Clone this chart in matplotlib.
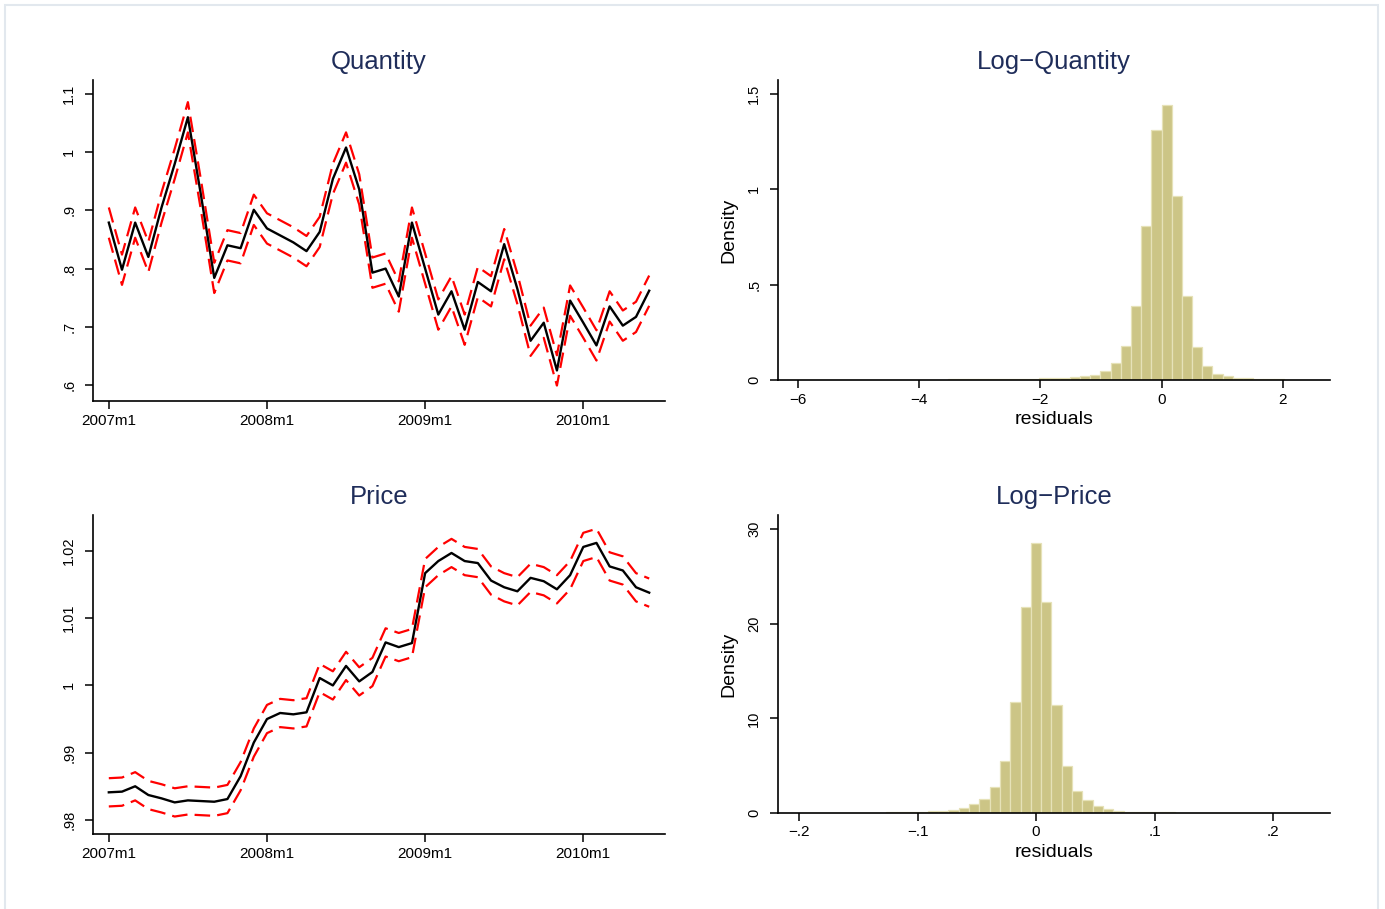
import matplotlib
matplotlib.use("Agg")
import matplotlib.pyplot as plt
from matplotlib.patches import Rectangle
import numpy as np

plt.rcParams['font.family'] = ['Liberation Sans', 'DejaVu Sans']

# ---- monthly series, 2007m1 .. 2010m6 ----
months = list(range(42))
date_ticks = [0, 12, 24, 36]
date_labels = ['2007m1', '2008m1', '2009m1', '2010m1']

quantity = [0.879, 0.798, 0.879, 0.820, 0.905, 0.980, 1.060, 0.925, 0.784, 0.840,
            0.835, 0.901, 0.869, 0.857, 0.845, 0.830, 0.863, 0.954, 1.008, 0.936,
            0.793, 0.800, 0.752, 0.879, 0.800, 0.721, 0.761, 0.695, 0.777, 0.761,
            0.842, 0.765, 0.676, 0.707, 0.625, 0.745, 0.707, 0.668, 0.735, 0.702,
            0.717, 0.762]
quantity_hi = [0.905, 0.824, 0.905, 0.846, 0.931, 1.006, 1.086, 0.951, 0.810, 0.866,
               0.861, 0.927, 0.895, 0.883, 0.871, 0.856, 0.889, 0.980, 1.034, 0.962,
               0.819, 0.826, 0.778, 0.905, 0.826, 0.747, 0.787, 0.721, 0.803, 0.787,
               0.868, 0.791, 0.702, 0.733, 0.651, 0.771, 0.733, 0.694, 0.761, 0.728,
               0.743, 0.788]
quantity_lo = [0.853, 0.772, 0.853, 0.794, 0.879, 0.954, 1.034, 0.899, 0.758, 0.814,
               0.809, 0.875, 0.843, 0.831, 0.819, 0.804, 0.837, 0.928, 0.982, 0.910,
               0.767, 0.774, 0.726, 0.853, 0.774, 0.695, 0.735, 0.669, 0.751, 0.735,
               0.816, 0.739, 0.650, 0.681, 0.599, 0.719, 0.681, 0.642, 0.709, 0.676,
               0.691, 0.736]

price = [0.9841, 0.9842, 0.9850, 0.9837, 0.9832, 0.9826, 0.9829, 0.9828, 0.9827, 0.9831,
         0.9865, 0.9915, 0.9950, 0.9959, 0.9957, 0.9960, 1.0011, 1.0000, 1.0029, 1.0006,
         1.0020, 1.0064, 1.0057, 1.0063, 1.0167, 1.0185, 1.0197, 1.0185, 1.0182, 1.0156,
         1.0146, 1.0140, 1.0160, 1.0155, 1.0143, 1.0164, 1.0206, 1.0212, 1.0177, 1.0171,
         1.0146, 1.0138]
price_hi = [0.9862, 0.9863, 0.9871, 0.9858, 0.9853, 0.9847, 0.9850, 0.9849, 0.9848, 0.9852,
            0.9886, 0.9936, 0.9971, 0.9980, 0.9978, 0.9981, 1.0032, 1.0021, 1.0050, 1.0027,
            1.0041, 1.0085, 1.0078, 1.0084, 1.0188, 1.0206, 1.0218, 1.0206, 1.0203, 1.0177,
            1.0167, 1.0161, 1.0181, 1.0176, 1.0164, 1.0185, 1.0227, 1.0233, 1.0198, 1.0192,
            1.0167, 1.0159]
price_lo = [0.9820, 0.9821, 0.9829, 0.9816, 0.9811, 0.9805, 0.9808, 0.9807, 0.9806, 0.9810,
            0.9844, 0.9894, 0.9929, 0.9938, 0.9936, 0.9939, 0.9990, 0.9979, 1.0008, 0.9985,
            0.9999, 1.0043, 1.0036, 1.0042, 1.0146, 1.0164, 1.0176, 1.0164, 1.0161, 1.0135,
            1.0125, 1.0119, 1.0139, 1.0134, 1.0122, 1.0143, 1.0185, 1.0191, 1.0156, 1.0150,
            1.0125, 1.0117]

# ---- residual histograms (density per bin) ----
logq_bin_start = -6.216
logq_bin_width = 0.168
logq_density = [0.002, 0.001, 0.001, 0.001, 0.001, 0.001, 0.001, 0.001, 0.001, 0.001,
                0.001, 0.001, 0.002, 0.002, 0.002, 0.002, 0.003, 0.003, 0.003, 0.004,
                0.004, 0.005, 0.005, 0.006, 0.007, 0.008, 0.009, 0.011, 0.014, 0.020,
                0.028, 0.049, 0.088, 0.179, 0.388, 0.806, 1.312, 1.444, 0.966, 0.443,
                0.174, 0.072, 0.033, 0.020, 0.012, 0.008, 0.005, 0.004, 0.003, 0.002,
                0.002, 0.001]

logp_bin_start = -0.2045
logp_bin_width = 0.0087
logp_density = [0.03, 0.03, 0.03, 0.03, 0.04, 0.04, 0.04, 0.05, 0.05, 0.06,
                0.07, 0.09, 0.12, 0.18, 0.25, 0.35, 0.53, 0.91, 1.47, 2.74,
                5.47, 11.75, 21.8, 28.5, 22.35, 11.4, 5.0, 2.35, 1.4, 0.74,
                0.42, 0.2, 0.15, 0.12, 0.1, 0.08, 0.06, 0.05, 0.05, 0.05,
                0.04, 0.04, 0.04, 0.04, 0.04, 0.0, 0.05, 0.05, 0.0, 0.05]

TITLE_COLOR = '#1f2d5a'
BAR_FILL = '#ccc586'
BAR_EDGE = '#e6e2b8'

W, H = 1385, 909
fig = plt.figure(figsize=(W / 100, H / 100), dpi=100)
fig.patch.set_facecolor('white')


def px_axes(left, top, right, bottom):
    return fig.add_axes([left / W, 1 - bottom / H, (right - left) / W, (bottom - top) / H])


def style(ax, title):
    for side in ('top', 'right'):
        ax.spines[side].set_visible(False)
    for side in ('left', 'bottom'):
        ax.spines[side].set_linewidth(1.2)
    ax.tick_params(direction='out', length=6, width=1.1, color='black')
    ax.tick_params(axis='x', labelsize=11, pad=3)
    ax.tick_params(axis='y', labelsize=10.5, pad=6)
    for lbl in ax.get_yticklabels():
        lbl.set_rotation(90)
        lbl.set_va('center')
    ax.set_title(title, fontsize=18.5, color=TITLE_COLOR, pad=8)


def band_panel(ax, title, center, hi, lo, yticks, ylabels, ylim):
    ax.plot(months, hi, color='red', lw=1.6, dashes=(7, 3.2))
    ax.plot(months, lo, color='red', lw=1.6, dashes=(7, 3.2))
    ax.plot(months, center, color='black', lw=1.7)
    ax.set_xlim(-1.2, 42.2)
    ax.set_ylim(*ylim)
    ax.set_xticks(date_ticks)
    ax.set_xticklabels(date_labels)
    ax.set_yticks(yticks)
    ax.set_yticklabels(ylabels)
    style(ax, title)


def hist_panel(ax, title, start, width, dens, xticks, xlabels, yticks, ylabels, xlim, ylim):
    lefts = start + width * np.arange(len(dens))
    ax.bar(lefts, dens, width=width, align='edge', color=BAR_FILL,
           edgecolor=BAR_EDGE, linewidth=0.9)
    ax.set_xlim(*xlim)
    ax.set_ylim(*ylim)
    ax.set_xticks(xticks)
    ax.set_xticklabels(xlabels)
    ax.set_yticks(yticks)
    ax.set_yticklabels(ylabels)
    ax.set_xlabel('residuals', fontsize=14, labelpad=3)
    ax.set_ylabel('Density', fontsize=14, labelpad=7)
    style(ax, title)


ax1 = px_axes(93, 80, 665, 401)
band_panel(ax1, 'Quantity', quantity, quantity_hi, quantity_lo,
           [0.6, 0.7, 0.8, 0.9, 1.0, 1.1], ['.6', '.7', '.8', '.9', '1', '1.1'],
           (0.5725, 1.124))

ax3 = px_axes(93, 515, 665, 834)
band_panel(ax3, 'Price', price, price_hi, price_lo,
           [0.98, 0.99, 1.0, 1.01, 1.02], ['.98', '.99', '1', '1.01', '1.02'],
           (0.9779, 1.02535))

ax2 = px_axes(778, 80, 1330, 380)
hist_panel(ax2, 'Log\u2212Quantity', logq_bin_start, logq_bin_width, logq_density,
           [-6, -4, -2, 0, 2], ['\u22126', '\u22124', '\u22122', '0', '2'],
           [0, 0.5, 1.0, 1.5], ['0', '.5', '1', '1.5'],
           (-6.33, 2.78), (0, 1.573))

ax4 = px_axes(778, 515, 1330, 813)
hist_panel(ax4, 'Log\u2212Price', logp_bin_start, logp_bin_width, logp_density,
           [-0.2, -0.1, 0, 0.1, 0.2], ['\u2212.2', '\u2212.1', '0', '.1', '.2'],
           [0, 10, 20, 30], ['0', '10', '20', '30'],
           (-0.2177, 0.248), (0, 31.5))

# light outer frame around the graph region
fig.add_artist(Rectangle((5 / W, -0.02), 1373 / W, 1 - 5 / H + 0.02,
                         transform=fig.transFigure, fill=False,
                         edgecolor='#e2e8ee', linewidth=1.5))

fig.savefig('out.png', dpi=100, facecolor='white')
